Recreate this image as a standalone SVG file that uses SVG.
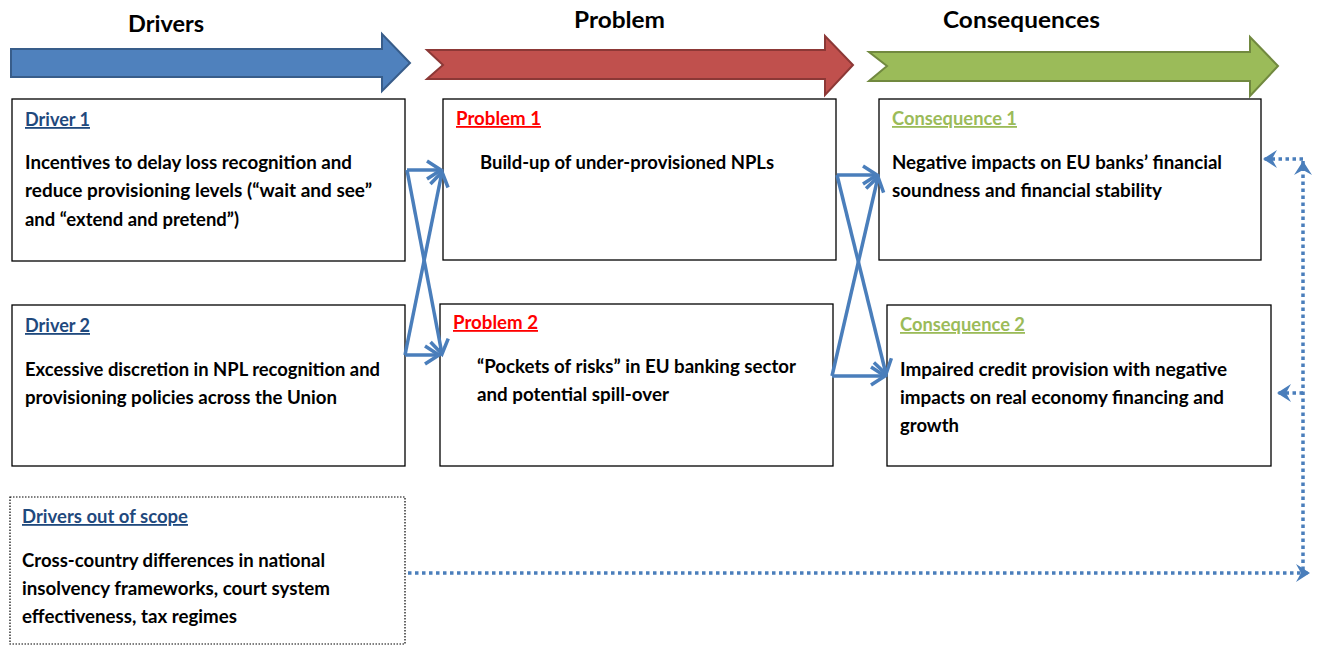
<svg xmlns="http://www.w3.org/2000/svg" width="1323" height="646" viewBox="0 0 1323 646">
<defs>
<style>
.hdr{font-family:Lato,"Open Sans","Liberation Sans",sans-serif;font-weight:bold;font-size:23px;fill:#000}
.t{font-family:Lato,"Open Sans","Liberation Sans",sans-serif;font-weight:bold;font-size:18px;fill:#000}
.lbl{font-family:Lato,"Open Sans","Liberation Sans",sans-serif;font-weight:bold;font-size:18px;text-decoration:underline}
.box{fill:#fff;stroke:#000;stroke-width:1.3}
.dbox{fill:#fff;stroke:#000;stroke-width:1.2;stroke-dasharray:1.5 1.5}
.con{fill:none;stroke:#4A7EBB;stroke-width:3.5}
.dot{fill:none;stroke:#4A7EBB;stroke-width:3.5;stroke-dasharray:3.5 3.5}
</style>
<marker id="open" markerUnits="userSpaceOnUse" markerWidth="24" markerHeight="24" viewBox="0 0 24 24" refX="17" refY="12" orient="auto">
<path d="M3,3 L17,12 L3,21" fill="none" stroke="#4A7EBB" stroke-width="3.5" stroke-linejoin="miter"/>
</marker>
<marker id="chev" markerUnits="userSpaceOnUse" markerWidth="22" markerHeight="22" viewBox="0 0 22 22" refX="16" refY="11" orient="auto">
<path d="M2,2 L16,11 L2,20 L7,11 Z" fill="#4A7EBB"/>
</marker>
</defs>

<g id="header-drivers">
<polygon points="11,49 382,49 382,34 410,63 382,91 382,77 11,77" fill="#4F81BD" stroke="#385D8A" stroke-width="2"/>
<text class="hdr" x="128" y="32" textLength="76" lengthAdjust="spacingAndGlyphs">Drivers</text>
</g>
<g id="header-problem">
<polygon points="427,50 825,50 825,36 853,65 825,95 825,79 427,79 443,65" fill="#C0504D" stroke="#8C3836" stroke-width="2"/>
<text class="hdr" x="574" y="28" textLength="91" lengthAdjust="spacingAndGlyphs">Problem</text>
</g>
<g id="header-consequences">
<polygon points="869,52 1250,52 1250,37 1278,66 1250,96 1250,81 869,81 887,66" fill="#9BBB59" stroke="#71893F" stroke-width="2"/>
<text class="hdr" x="943" y="28" textLength="157" lengthAdjust="spacingAndGlyphs">Consequences</text>
</g>

<g id="driver1">
<rect class="box" x="12" y="99" width="393" height="162"/>
<text class="lbl" x="25" y="126" fill="#1F497D" textLength="65" lengthAdjust="spacingAndGlyphs">Driver 1</text>
<text class="t" x="25" y="169" textLength="327" lengthAdjust="spacingAndGlyphs">Incentives to delay loss recognition and</text>
<text class="t" x="25" y="197" textLength="347" lengthAdjust="spacingAndGlyphs">reduce provisioning levels (“wait and see”</text>
<text class="t" x="25" y="226" textLength="214" lengthAdjust="spacingAndGlyphs">and “extend and pretend”)</text>
</g>

<g id="driver2">
<rect class="box" x="12" y="305" width="393" height="161"/>
<text class="lbl" x="25" y="332" fill="#1F497D" textLength="65" lengthAdjust="spacingAndGlyphs">Driver 2</text>
<text class="t" x="25" y="376" textLength="355" lengthAdjust="spacingAndGlyphs">Excessive discretion in NPL recognition and</text>
<text class="t" x="25" y="404" textLength="312" lengthAdjust="spacingAndGlyphs">provisioning policies across the Union</text>
</g>

<g id="problem1">
<rect class="box" x="443" y="99" width="393" height="161"/>
<text class="lbl" x="456" y="125" fill="#FF0000" textLength="85" lengthAdjust="spacingAndGlyphs">Problem 1</text>
<text class="t" x="480" y="169" textLength="294" lengthAdjust="spacingAndGlyphs">Build-up of under-provisioned NPLs</text>
</g>

<g id="problem2">
<rect class="box" x="440" y="304" width="393" height="162"/>
<text class="lbl" x="453" y="329" fill="#FF0000" textLength="85" lengthAdjust="spacingAndGlyphs">Problem 2</text>
<text class="t" x="477" y="373" textLength="319" lengthAdjust="spacingAndGlyphs">“Pockets of risks” in EU banking sector</text>
<text class="t" x="477" y="401" textLength="192" lengthAdjust="spacingAndGlyphs">and potential spill-over</text>
</g>

<g id="consequence1">
<rect class="box" x="879" y="99" width="382" height="161"/>
<text class="lbl" x="892" y="125" fill="#9BBB59" textLength="125" lengthAdjust="spacingAndGlyphs">Consequence 1</text>
<text class="t" x="892" y="169" textLength="330" lengthAdjust="spacingAndGlyphs">Negative impacts on EU banks’ financial</text>
<text class="t" x="892" y="197" textLength="270" lengthAdjust="spacingAndGlyphs">soundness and financial stability</text>
</g>

<g id="consequence2">
<rect class="box" x="887" y="305" width="384" height="161"/>
<text class="lbl" x="900" y="331" fill="#9BBB59" textLength="125" lengthAdjust="spacingAndGlyphs">Consequence 2</text>
<text class="t" x="900" y="376" textLength="327" lengthAdjust="spacingAndGlyphs">Impaired credit provision with negative</text>
<text class="t" x="900" y="404" textLength="324" lengthAdjust="spacingAndGlyphs">impacts on real economy financing and</text>
<text class="t" x="900" y="432" textLength="59" lengthAdjust="spacingAndGlyphs">growth</text>
</g>

<g id="drivers-out-of-scope">
<rect class="dbox" x="10" y="497" width="395" height="147"/>
<text class="lbl" x="22" y="523" fill="#1F497D" textLength="166" lengthAdjust="spacingAndGlyphs">Drivers out of scope</text>
<text class="t" x="22" y="567" textLength="303" lengthAdjust="spacingAndGlyphs">Cross-country differences in national</text>
<text class="t" x="22" y="595" textLength="308" lengthAdjust="spacingAndGlyphs">insolvency frameworks, court system</text>
<text class="t" x="22" y="623" textLength="215" lengthAdjust="spacingAndGlyphs">effectiveness, tax regimes</text>
</g>

<g id="connectors">
<line class="con" x1="407" y1="170" x2="441" y2="170" marker-end="url(#open)"/>
<line class="con" x1="407" y1="170" x2="442" y2="354" marker-end="url(#open)"/>
<line class="con" x1="405" y1="355" x2="439" y2="355" marker-end="url(#open)"/>
<line class="con" x1="405" y1="355" x2="442" y2="172" marker-end="url(#open)"/>
<line class="con" x1="837" y1="175" x2="877" y2="175" marker-end="url(#open)"/>
<line class="con" x1="837" y1="175" x2="886" y2="374" marker-end="url(#open)"/>
<line class="con" x1="832" y1="376" x2="885" y2="376" marker-end="url(#open)"/>
<line class="con" x1="832" y1="376" x2="878" y2="177" marker-end="url(#open)"/>
<line class="dot" x1="408" y1="573" x2="1310" y2="573" marker-end="url(#chev)"/>
<line class="dot" x1="1303" y1="570" x2="1303" y2="161" marker-end="url(#chev)"/>
<line class="dot" x1="1303" y1="159" x2="1263" y2="159" marker-end="url(#chev)"/>
<line class="dot" x1="1303" y1="393" x2="1277" y2="393" marker-end="url(#chev)"/>
</g>
</svg>
